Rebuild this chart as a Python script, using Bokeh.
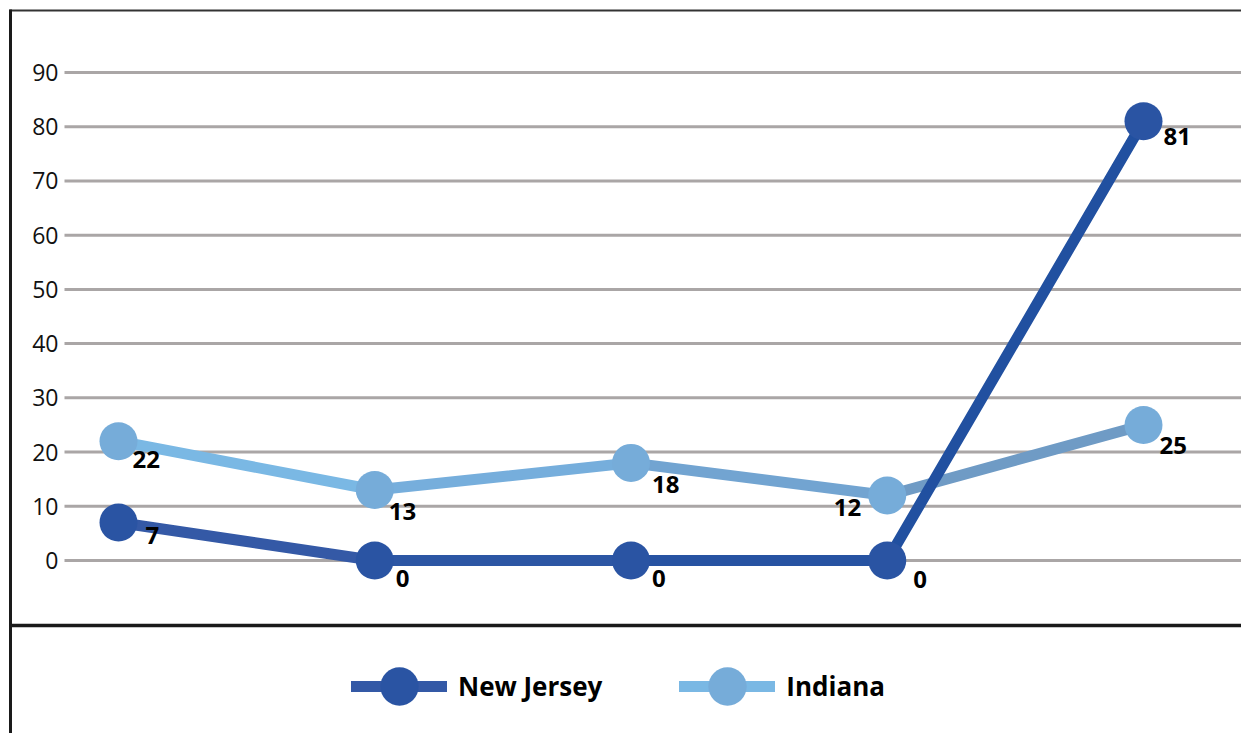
from bokeh.plotting import figure
from bokeh.models import (ColumnDataSource, Range1d, LinearAxis, FixedTicker,
                          Legend, LegendItem)
from bokeh.core.properties import value
from bokeh.embed import file_html
from bokeh.resources import INLINE

# ---------------- data ----------------
x_pos = [0, 1, 2, 3, 4]
new_jersey = [7, 0, 0, 0, 81]
indiana = [22, 13, 18, 12, 25]
y_ticks = [0, 10, 20, 30, 40, 50, 60, 70, 80, 90]
series_names = ["New Jersey", "Indiana"]

# ---------------- styles ----------------
nj_seg_colors = ["#3459a6", "#2c56a4", "#2753a2", "#2150a0"]
ind_seg_colors = ["#7ab8e4", "#76aedc", "#72a4d1", "#6f9bc5"]
nj_point_color = "#2a54a3"
ind_point_color = "#76acd9"

# label offsets (screen px) relative to each point
nj_label_dx = [27, 21, 21, 26, 20]
nj_label_dy = [13, 18, 18, 19, 15]
nj_label_align = ["left", "left", "left", "left", "left"]
ind_label_dx = [14, 14, 21, -26, 16]
ind_label_dy = [18, 21, 22, 12, 21]
ind_label_align = ["left", "left", "left", "right", "left"]

FONT = "Open Sans"

# page-pixel -> data helpers (layout geometry only)
PX0, PXS = 118.0, 256.25
PY0, PYS = 560.0, 488.0 / 90.0
def dx(px):
    return (px - PX0) / PXS
def dy(py):
    return (PY0 - py) / PYS

W, H = 1241, 733

p = figure(width=W, height=H, output_backend="svg", toolbar_location=None,
           x_range=Range1d(dx(0), dx(W)), y_range=Range1d(dy(H), dy(0)),
           x_axis_location=None, y_axis_location=None,
           min_border=0, min_border_left=0, min_border_right=0,
           min_border_top=0, min_border_bottom=0)
p.outline_line_color = None
p.xgrid.visible = False
p.ygrid.visible = False
p.background_fill_color = "white"
p.border_fill_color = "white"

# gridlines
p.segment(x0=[dx(64)] * len(y_ticks), x1=[dx(W)] * len(y_ticks),
          y0=y_ticks, y1=y_ticks, line_color="#aaa6a6", line_width=3)

# y axis inside the box
yax = LinearAxis(ticker=FixedTicker(ticks=y_ticks), fixed_location=dx(62))
yax.axis_line_color = None
yax.major_tick_line_color = None
yax.minor_tick_line_color = None
yax.major_tick_out = 0
yax.major_tick_in = 0
yax.major_label_standoff = 4
yax.major_label_text_font = FONT
yax.major_label_text_font_size = "23px"
yax.major_label_text_color = "#111111"
p.add_layout(yax, "left")

# frame lines (box border and divider above the legend)
p.segment(x0=[dx(9)], x1=[dx(W)], y0=[dy(10)], y1=[dy(10)],
          line_color="#333333", line_width=2)
p.segment(x0=[dx(10)], x1=[dx(10)], y0=[dy(9)], y1=[dy(H)],
          line_color="#1a1a1a", line_width=3)
p.segment(x0=[dx(10)], x1=[dx(W)], y0=[dy(625)], y1=[dy(625)],
          line_color="#1a1a1a", line_width=3.5)

# Indiana
ind_seg = p.segment(x0=x_pos[:-1], x1=x_pos[1:], y0=indiana[:-1], y1=indiana[1:],
                    line_color=ind_seg_colors, line_width=11, line_cap="round")
ind_pts = p.scatter(x_pos, indiana, size=38, marker="circle",
                    fill_color=ind_point_color, line_color=None)

# New Jersey
nj_seg = p.segment(x0=x_pos[:-1], x1=x_pos[1:], y0=new_jersey[:-1], y1=new_jersey[1:],
                   line_color=nj_seg_colors, line_width=11, line_cap="round")
nj_pts = p.scatter(x_pos, new_jersey, size=38, marker="circle",
                   fill_color=nj_point_color, line_color=None)

# value labels
for vals, ddx, ddy, al in [(indiana, ind_label_dx, ind_label_dy, ind_label_align),
                           (new_jersey, nj_label_dx, nj_label_dy, nj_label_align)]:
    src = ColumnDataSource(dict(x=x_pos, y=vals, t=[str(v) for v in vals],
                                ox=ddx, oy=ddy, al=al))
    p.text(x="x", y="y", text="t", x_offset="ox", y_offset="oy", text_align="al",
           text_baseline="middle", text_font=value(FONT), text_font_style="bold",
           text_font_size="24px", text_color="#000000", source=src)

legend = Legend(items=[LegendItem(label=series_names[0], renderers=[nj_seg, nj_pts]),
                       LegendItem(label=series_names[1], renderers=[ind_seg, ind_pts])],
                orientation="horizontal", location=(351, -1),
                glyph_width=96, glyph_height=96, label_standoff=11, spacing=77,
                padding=0, margin=0, border_line_color=None,
                background_fill_alpha=0,
                label_text_font=FONT, label_text_font_style="bold",
                label_text_font_size="26px", label_text_color="#000000")
p.add_layout(legend)

open("out.html", "w").write(file_html(p, INLINE))
